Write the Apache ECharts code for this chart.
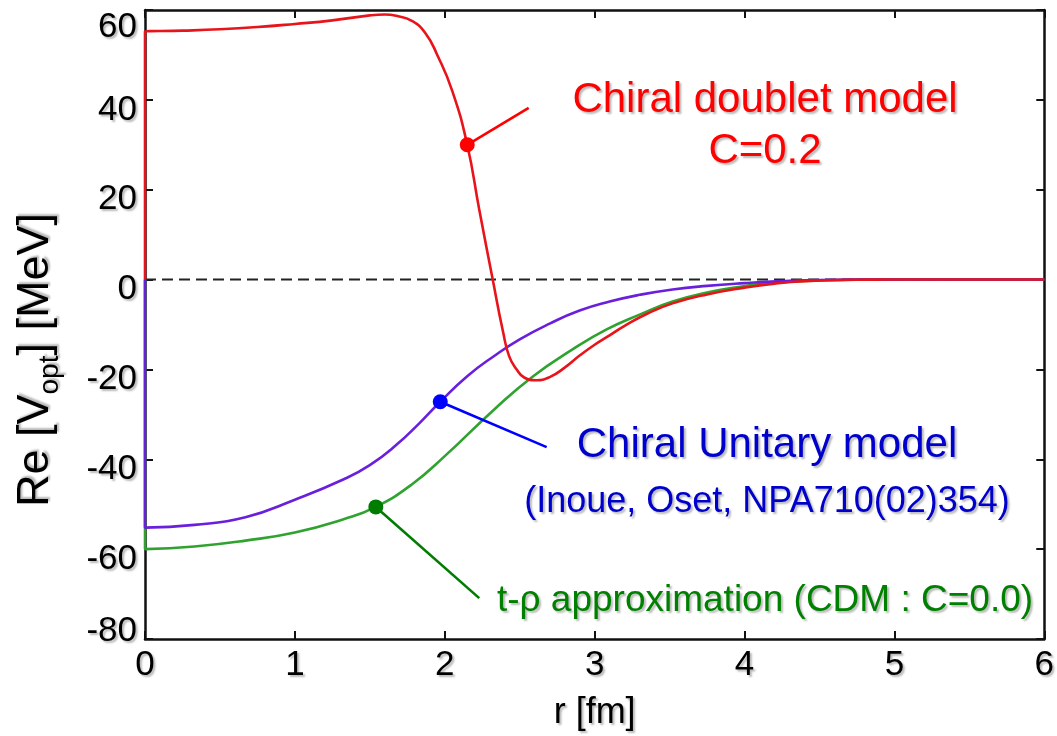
<!DOCTYPE html>
<html>
<head>
<meta charset="utf-8">
<script src="https://cdn.jsdelivr.net/npm/echarts@6/dist/echarts.min.js"></script>
<style>
  html, body { margin: 0; padding: 0; background: #ffffff; }
  #chart { width: 1057px; height: 736px; }
</style>
</head>
<body>
<div id="chart"></div>
<script>
// Real part of the optical potential vs radius r [fm]

// Chiral doublet model, C = 0.2
const doubletR = [0, 0, 0.25, 0.5, 0.75, 1.0, 1.25, 1.5, 1.6, 1.69, 1.78, 1.87, 1.95, 2.05, 2.15, 2.23, 2.32, 2.39, 2.43, 2.48, 2.53, 2.61, 2.7, 2.8, 2.9, 3.0, 3.1, 3.2, 3.35, 3.52, 3.75, 4.0, 4.2, 4.4, 4.7, 5.0, 6.0];
const doubletV = [0, 55.2, 55.4, 55.7, 56.2, 56.9, 57.7, 58.8, 59.0, 58.6, 57.6, 54.9, 50.0, 42.0, 30.0, 15.6, 0, -11.8, -17.1, -20.0, -21.8, -22.4, -21.7, -19.6, -16.9, -14.5, -12.4, -10.3, -7.6, -5.3, -3.3, -1.8, -0.9, -0.35, -0.05, 0, 0];

// Chiral unitary model (Inoue, Oset)
const unitaryR = [0, 0, 0.33, 0.67, 1.0, 1.33, 1.5, 1.67, 1.83, 1.97, 2.15, 2.33, 2.5, 2.7, 2.9, 3.1, 3.3, 3.52, 3.75, 4.0, 4.25, 4.5, 5.0, 6.0];
const unitaryV = [0, -55.2, -54.6, -52.9, -49.0, -44.4, -41.3, -37.0, -32.0, -27.2, -21.5, -17.0, -13.3, -9.8, -6.9, -4.9, -3.4, -2.2, -1.4, -0.8, -0.35, -0.1, 0, 0];

// t-rho approximation (CDM, C = 0.0)
const tRhoR = [0, 0, 0.33, 0.67, 1.0, 1.33, 1.54, 1.78, 2.0, 2.33, 2.59, 2.85, 3.08, 3.3, 3.52, 3.75, 3.97, 4.19, 4.5, 5.0, 6.0];
const tRhoV = [0, -60.0, -59.4, -58.1, -56.3, -53.3, -50.6, -45.6, -39.3, -28.9, -21.5, -15.6, -11.1, -7.8, -4.9, -2.9, -1.6, -0.7, -0.2, 0, 0];

// Callout markers on each curve and the ends of their leader lines
const doubletCallout = [[2.15, 30.0], [2.56, 38.2]];
const unitaryCallout = [[1.97, -27.2], [2.68, -37.3]];
const tRhoCallout = [[1.54, -50.6], [2.23, -70.9]];

// Axes
const xMin = 0, xMax = 6, xStep = 1;
const yMin = -80, yMax = 60, yStep = 20;
const xTitle = 'r [fm]';

const pairs = (xs, ys) => xs.map((x, i) => [x, ys[i]]);

const FONT = '"Liberation Sans", Arial, sans-serif';
const shadow = {
  textShadowColor: 'rgba(0,0,0,0.28)',
  textShadowBlur: 2,
  textShadowOffsetX: 2,
  textShadowOffsetY: 2
};

const chart = echarts.init(document.getElementById('chart'), null, { renderer: 'canvas' });

const frameAxis = () => ({
  axisLine: { show: true, onZero: false, lineStyle: { color: '#111', width: 2.5 } },
  axisTick: { show: true, inside: true, length: 8, lineStyle: { color: '#111', width: 2 } },
  splitLine: { show: false }
});

function curve(name, xs, ys, color) {
  return {
    name, type: 'line', data: pairs(xs, ys),
    showSymbol: false, smooth: 0.5,
    lineStyle: { color, width: 2.6 }, z: 3, silent: true
  };
}

function callout(name, pts, color) {
  return [
    {
      name: name + ' leader', type: 'line', data: pts,
      showSymbol: false, lineStyle: { color, width: 2.6 }, z: 4, silent: true
    },
    {
      name: name + ' marker', type: 'scatter', data: [pts[0]],
      symbol: 'circle', symbolSize: 15, itemStyle: { color, opacity: 1 }, z: 5, silent: true
    }
  ];
}

function label(text, x, y, size, color) {
  return {
    type: 'text', x, y, z: 10, silent: true,
    style: {
      text, fill: color, font: size + 'px ' + FONT,
      align: 'center', verticalAlign: 'middle',
      textShadowColor: shadow.textShadowColor, textShadowBlur: 2, textShadowOffsetX: 2, textShadowOffsetY: 2
    }
  };
}

const option = {
  animation: false,
  backgroundColor: '#ffffff',
  grid: { left: 145, right: 12, top: 10, bottom: 96, containLabel: false },
  xAxis: [
    Object.assign({
      type: 'value', min: xMin, max: xMax, interval: xStep, position: 'bottom',
      name: xTitle, nameLocation: 'middle', nameGap: 56,
      nameTextStyle: Object.assign({ fontFamily: FONT, fontSize: 36, color: '#000' }, shadow),
      axisLabel: Object.assign({ fontFamily: FONT, fontSize: 35, color: '#000', margin: 9 }, shadow)
    }, frameAxis()),
    Object.assign({
      type: 'value', min: xMin, max: xMax, interval: xStep, position: 'top',
      axisLabel: { show: false }
    }, frameAxis())
  ],
  yAxis: [
    Object.assign({
      type: 'value', min: yMin, max: yMax, interval: yStep, position: 'left',
      axisLabel: Object.assign({
        fontFamily: FONT, fontSize: 35, color: '#000', margin: 8,
        formatter: v => v === yMax ? '{t|' + v + '}' : (v === yMin ? '{b|' + v + '}' : '{m|' + v + '}'),
        rich: {
          t: { padding: [34, 0, 0, 0] },
          b: { padding: [0, 0, 16, 0] },
          m: { padding: [20, 0, 0, 0] }
        }
      }, shadow)
    }, frameAxis()),
    Object.assign({
      type: 'value', min: yMin, max: yMax, interval: yStep, position: 'right',
      axisLabel: { show: false }
    }, frameAxis())
  ],
  series: [
    {
      name: 'zero', type: 'line', data: [[xMin, 0], [xMax, 0]],
      showSymbol: false, silent: true, z: 2,
      lineStyle: { color: '#222', width: 2, type: [11, 6] }
    },
    curve('t-rho approximation', tRhoR, tRhoV, '#2fa22f'),
    curve('Chiral Unitary model', unitaryR, unitaryV, '#6a1fdc'),
    curve('Chiral doublet model', doubletR, doubletV, '#e8141a'),
    ...callout('doublet', doubletCallout, '#ff0000'),
    ...callout('unitary', unitaryCallout, '#0000ff'),
    ...callout('trho', tRhoCallout, '#007d00')
  ],
  graphic: [
    label('Chiral doublet model', 765, 100, 42, '#ff0000'),
    label('C=0.2', 765, 151, 42, '#ff0000'),
    label('Chiral Unitary model', 767, 445, 42, '#0000cc'),
    label('(Inoue, Oset, NPA710(02)354)', 767, 502, 36, '#0000cc'),
    label('t-\u03c1 approximation (CDM : C=0.0)', 765, 601, 37, '#008000'),
    {
      type: 'text', x: 36, y: 360, rotation: Math.PI / 2, z: 10, silent: true,
      style: {
        text: '{a|Re [V}{s|opt}{a|] [MeV]}',
        align: 'center', verticalAlign: 'middle',
        fill: '#000', font: '45px ' + FONT,
        textShadowColor: shadow.textShadowColor, textShadowBlur: 2, textShadowOffsetX: 2, textShadowOffsetY: -2,
        rich: {
          a: { fontSize: 45, fontFamily: FONT, lineHeight: 56, verticalAlign: 'middle', fill: '#000' },
          s: { fontSize: 28, fontFamily: FONT, lineHeight: 30, verticalAlign: 'bottom', fill: '#000' }
        }
      }
    }
  ]
};

chart.setOption(option);
</script>
</body>
</html>
